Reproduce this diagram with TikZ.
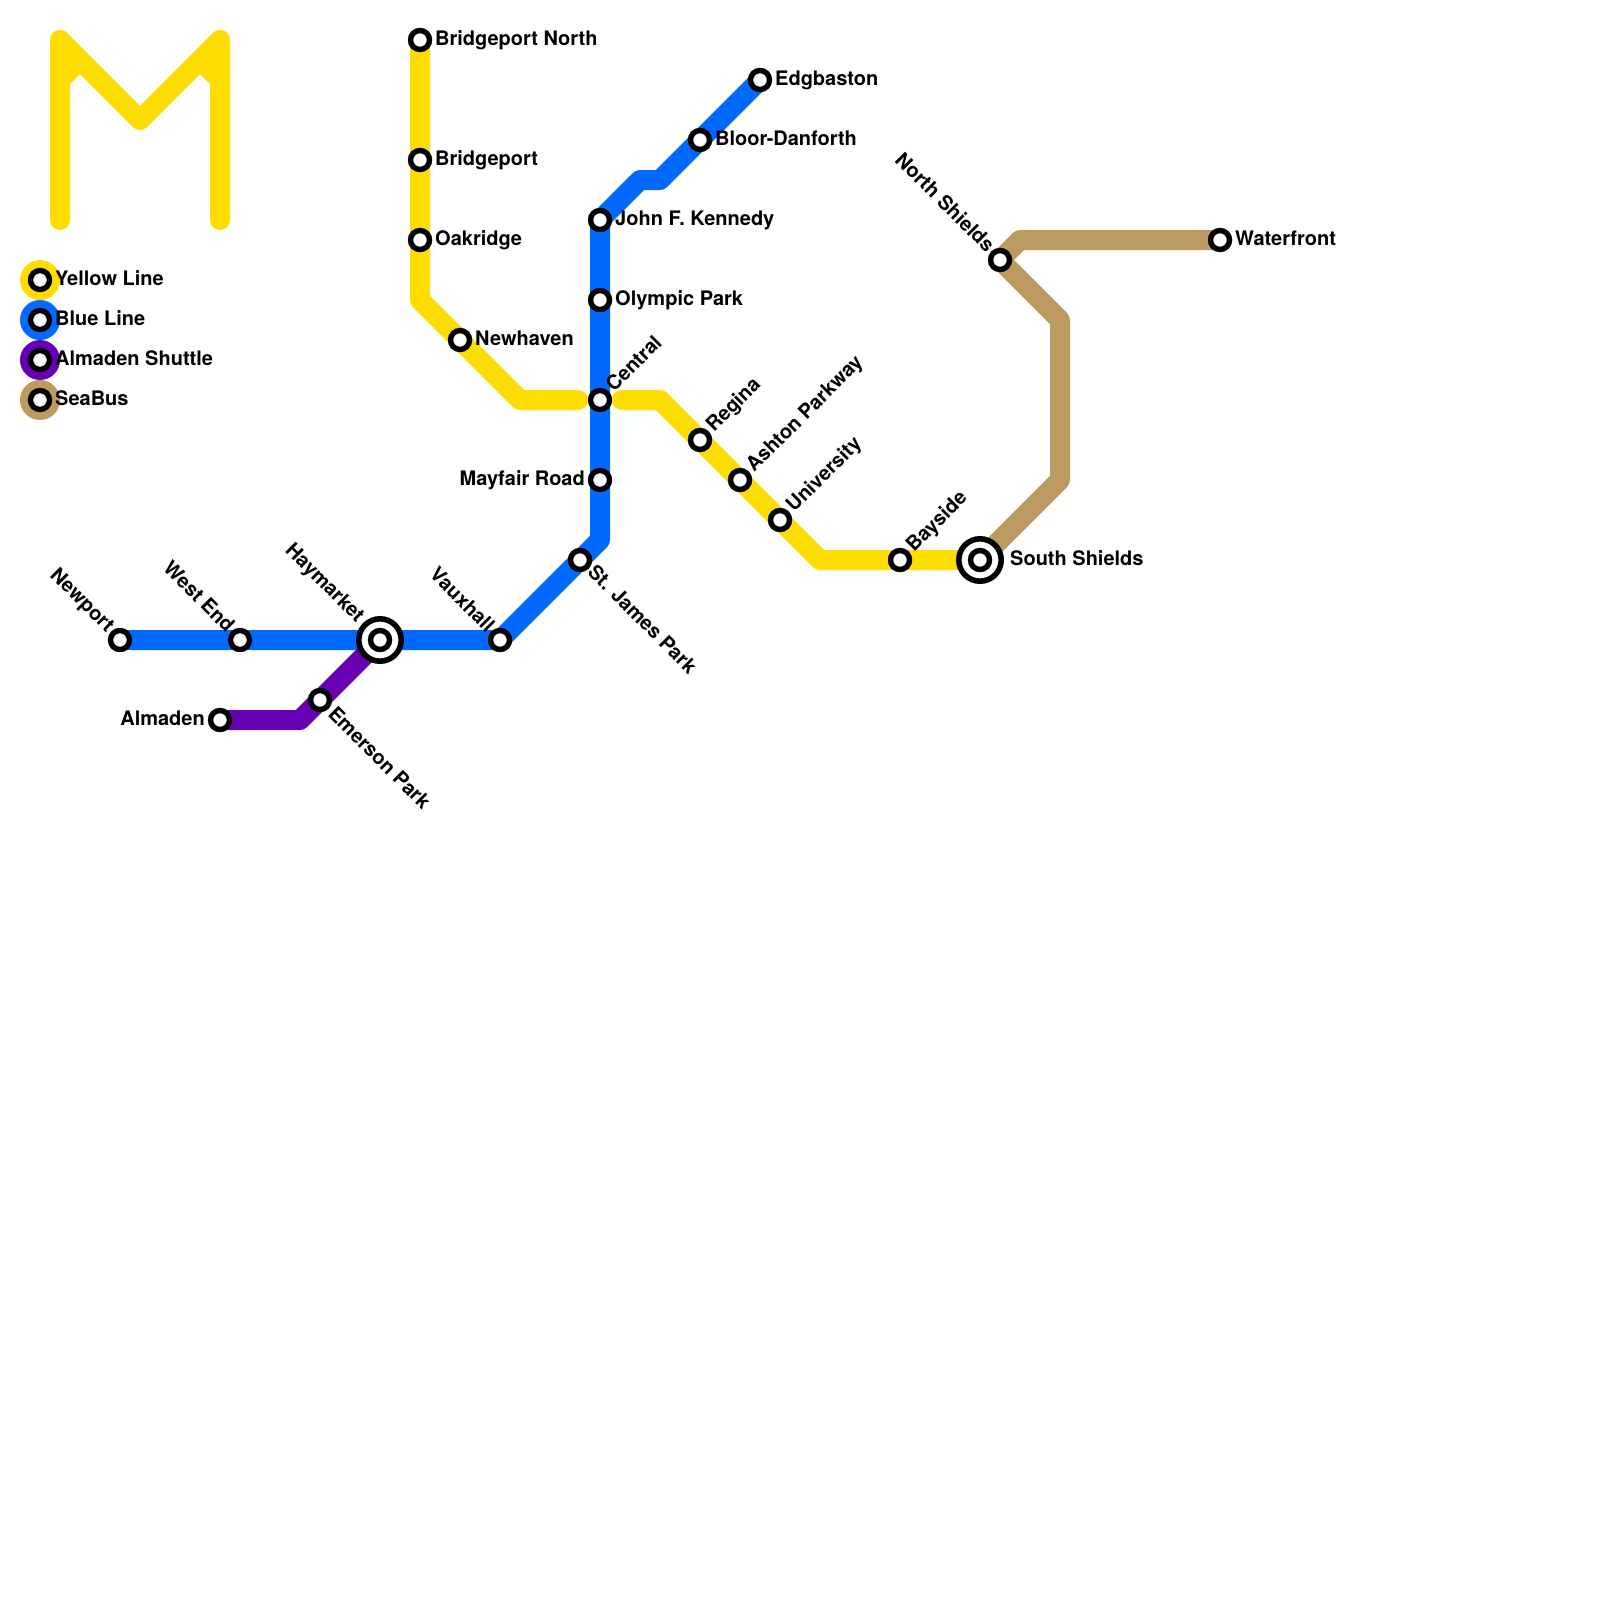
\documentclass[tikz,border=0pt]{standalone}
\usepackage{fontspec}
\setmainfont{TeX Gyre Heros}
\pgfdeclarelayer{lines}
\pgfsetlayers{lines,main}
\definecolor{lineyellow}{HTML}{FFDD00}
\definecolor{lineblue}{HTML}{0069FF}
\definecolor{linepurple}{HTML}{6600B3}
\definecolor{linetan}{HTML}{BC9A60}
\tikzset{
  x=1pt,y=-1pt,
  stn/.style={circle,draw=black,fill=white,line width=5.4pt,minimum size=19pt,inner sep=0pt,outer sep=0pt},
  hub/.style={circle,draw=black,fill=white,line width=5.6pt,minimum size=42.4pt,inner sep=0pt,outer sep=0pt},
  metro/.style={line width=20pt,line join=round,line cap=round},
  endflat/.style={line width=20pt,line join=round,line cap=butt},
  lbl/.style={font=\fontsize{20pt}{22pt}\selectfont\bfseries,inner sep=0pt,text=black,text height=14.4pt,text depth=0pt},
  lr/.style={lbl,anchor=west},
  ll/.style={lbl,anchor=east},
  lup/.style={lbl,anchor=west,rotate=45},
  ldn/.style={lbl,anchor=west,rotate=-45},
  lback/.style={lbl,anchor=east,rotate=-45},
  legdot/.style={circle,minimum size=40pt,inner sep=0pt,outer sep=0pt},
}
\begin{document}
\begin{tikzpicture}
\useasboundingbox (0,0) rectangle (1600,1600);
% logo M
\begin{pgfonlayer}{lines}
\coordinate (m1) at (60,220); \coordinate (m2) at (60,40); \coordinate (m3) at (140,120);
\coordinate (m4) at (220,40); \coordinate (m5) at (220,220);
\coordinate (m6) at (60,80); \coordinate (m7) at (80,60); \coordinate (m8) at (200,60); \coordinate (m9) at (220,80);
\draw[metro,lineyellow] (m1) -- (m2) -- (m3) -- (m4) -- (m5);
\draw[endflat,lineyellow] (m6) -- (m7);
\draw[endflat,lineyellow] (m8) -- (m9);
\end{pgfonlayer}
% legend
\node[legdot,fill=lineyellow] (ky) at (40,280) {};
\node[legdot,fill=lineblue] (kb) at (40,320) {};
\node[legdot,fill=linepurple] (kp) at (40,360) {};
\node[legdot,fill=linetan] (kt) at (40,400) {};
\node[stn] (kys) at (40,280) {};
\node[stn] (kbs) at (40,320) {};
\node[stn] (kps) at (40,360) {};
\node[stn] (kts) at (40,400) {};
\node[lr] (kyl) at (55,278) {Yellow Line};
\node[lr] (kbl) at (55,318) {Blue Line};
\node[lr] (kpl) at (55,358) {Almaden Shuttle};
\node[lr] (ktl) at (55,398) {SeaBus};
% hubs
\node[hub] (hay0) at (380,640) {};
\node[stn] (hay) at (380,640) {};
\node[hub] (ssh0) at (980,560) {};
\node[stn] (ssh) at (980,560) {};
% stations
\node[stn] (bpn) at (420,40) {};
\node[stn] (bp) at (420,160) {};
\node[stn] (oak) at (420,240) {};
\node[stn] (nwh) at (460,340) {};
\node[stn] (cen) at (600,400) {};
\node[stn] (reg) at (700,440) {};
\node[stn] (ash) at (740,480) {};
\node[stn] (uni) at (780,520) {};
\node[stn] (bay) at (900,560) {};
\node[stn] (edg) at (760,80) {};
\node[stn] (blo) at (700,140) {};
\node[stn] (jfk) at (600,220) {};
\node[stn] (oly) at (600,300) {};
\node[stn] (may) at (600,480) {};
\node[stn] (stj) at (580,560) {};
\node[stn] (vau) at (500,640) {};
\node[stn] (wen) at (240,640) {};
\node[stn] (new) at (120,640) {};
\node[stn] (alm) at (220,720) {};
\node[stn] (eme) at (320,700) {};
\node[stn] (nsh) at (1000,260) {};
\node[stn] (wat) at (1220,240) {};
% labels
\node[lr] (l1) at (435,38) {Bridgeport North};
\node[lr] (l2) at (435,158) {Bridgeport};
\node[lr] (l3) at (435,238) {Oakridge};
\node[lr] (l4) at (475,338) {Newhaven};
\node[lup] (l5) at (609,388) {Central};
\node[lup] (l6) at (709,428) {Regina};
\node[lup] (l7) at (749,468) {Ashton Parkway};
\node[lup] (l8) at (789,508) {University};
\node[lup] (l9) at (909,548) {Bayside};
\node[lr] (l10) at (1010,558) {South Shields};
\node[lr] (l11) at (775,78) {Edgbaston};
\node[lr] (l12) at (715,138) {Bloor-Danforth};
\node[lr] (l13) at (615,218) {John F. Kennedy};
\node[lr] (l14) at (615,298) {Olympic Park};
\node[ll] (l15) at (585,478) {Mayfair Road};
\node[ldn] (l16) at (591.5,568) {St. James Park};
\node[lback] (l17) at (491.5,628.5) {Vauxhall};
\node[lback] (l18) at (361.5,618.5) {Haymarket};
\node[lback] (l19) at (231.5,628.5) {West End};
\node[lback] (l20) at (111.5,628.5) {Newport};
\node[ll] (l21) at (205,718) {Almaden};
\node[ldn] (l22) at (332,710) {Emerson Park};
\node[lback] (l23) at (991.5,248.5) {North Shields};
\node[lr] (l24) at (1235,238) {Waterfront};
% lines
\begin{pgfonlayer}{lines}
\coordinate (y1) at (420,300); \coordinate (y2) at (520,400); \coordinate (y3) at (578,400);
\coordinate (y4) at (622,400); \coordinate (y5) at (660,400); \coordinate (y6) at (820,560);
\draw[metro,lineyellow] (bpn.center) -- (bp.center) -- (oak.center) -- (y1) -- (nwh.center) -- (y2) -- (y3);
\draw[metro,lineyellow] (y4) -- (y5) -- (reg.center) -- (ash.center) -- (uni.center) -- (y6) -- (bay.center) -- (ssh.center);
\coordinate (b1) at (660,180); \coordinate (b2) at (640,180); \coordinate (b3) at (600,540);
\draw[metro,lineblue] (edg.center) -- (blo.center) -- (b1) -- (b2) -- (jfk.center) -- (oly.center) -- (cen.center) -- (may.center) -- (b3) -- (stj.center) -- (vau.center) -- (hay.center) -- (wen.center) -- (new.center);
\coordinate (p1) at (300,720);
\draw[metro,linepurple] (alm.center) -- (p1) -- (eme.center) -- (hay.center);
\coordinate (t1) at (1060,480); \coordinate (t2) at (1060,320); \coordinate (t3) at (1020,240);
\draw[metro,linetan] (ssh.center) -- (t1) -- (t2) -- (nsh.center) -- (t3) -- (wat.center);
\end{pgfonlayer}
\end{tikzpicture}
\end{document}
